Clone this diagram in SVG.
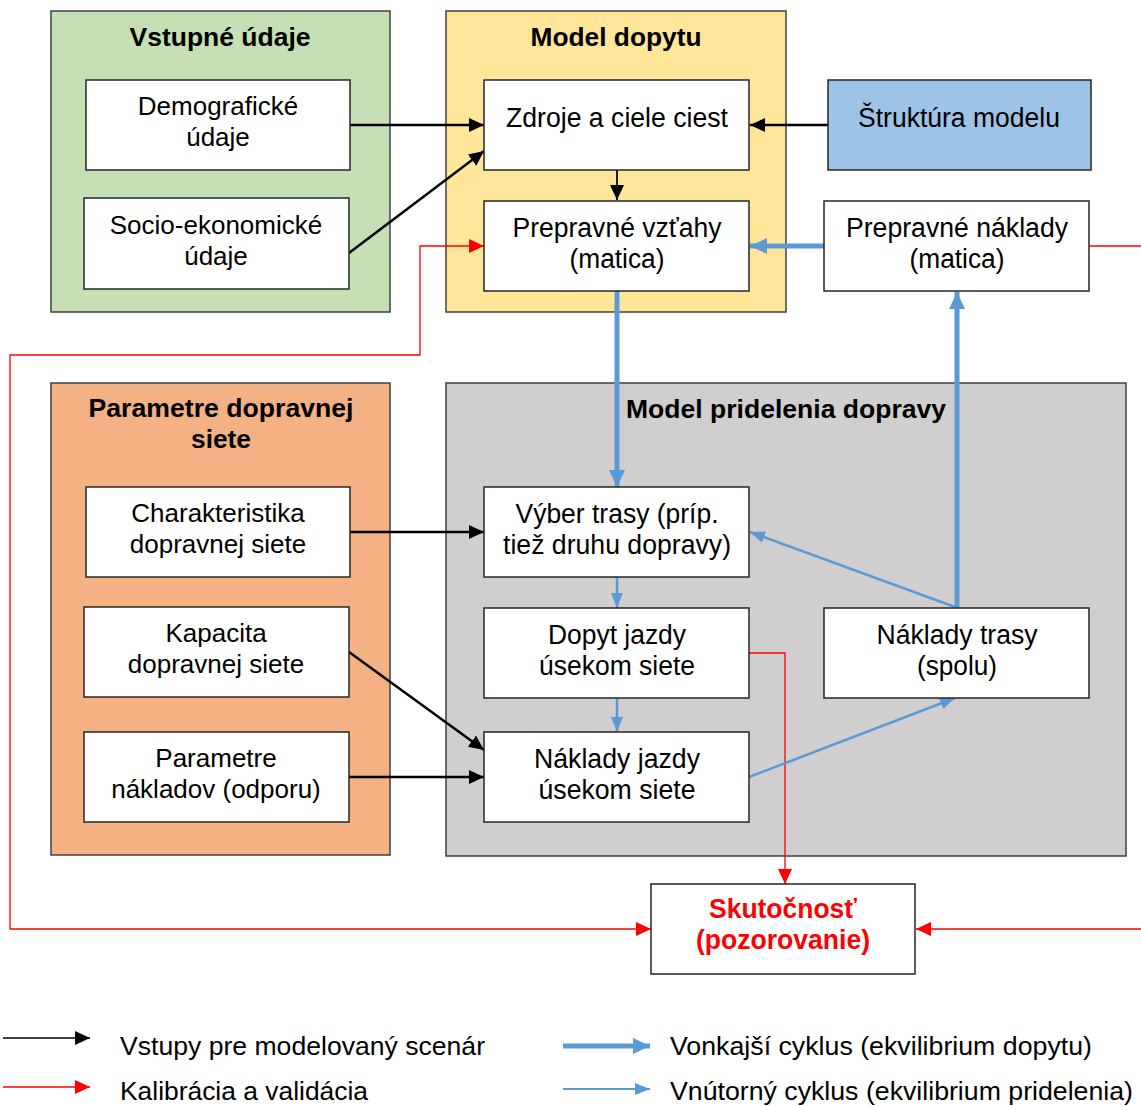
<svg xmlns="http://www.w3.org/2000/svg" width="1141" height="1106" viewBox="0 0 1141 1106">
<style>
text{font-family:"Liberation Sans",Arial,sans-serif;fill:#000;text-anchor:middle}
.t{font-size:26px;font-weight:bold}
.r{font-size:26px}
.c{font-size:27px}
.grp{stroke:#404040;stroke-width:1.5}
.box{fill:#fff;stroke:#262626;stroke-width:1.5}
.blk{stroke:#000;stroke-width:2.5;fill:none}
.blk1{stroke:#000;stroke-width:1.8;fill:none}
.red{stroke:#FF0000;stroke-width:1.3;fill:none}
.bT{stroke:#5B9BD5;stroke-width:5;fill:none}
.bt{stroke:#5B9BD5;stroke-width:2.5;fill:none}
.lg{font-size:26px;text-anchor:start}
</style>
<defs>
<marker id="ak" markerUnits="userSpaceOnUse" markerWidth="16" markerHeight="16" viewBox="0 0 16 16" refX="15" refY="8" orient="auto"><path d="M0,1 L15,8 L0,15 z" fill="#000"/></marker>
<marker id="ar" markerUnits="userSpaceOnUse" markerWidth="16" markerHeight="16" viewBox="0 0 16 16" refX="15" refY="8" orient="auto-start-reverse"><path d="M0,1 L15,8 L0,15 z" fill="#FF0000"/></marker>
<marker id="ab" markerUnits="userSpaceOnUse" markerWidth="18" markerHeight="18" viewBox="0 0 18 18" refX="17" refY="9" orient="auto"><path d="M0,1 L17,9 L0,17 z" fill="#5B9BD5"/></marker>
<marker id="abs" markerUnits="userSpaceOnUse" markerWidth="16" markerHeight="16" viewBox="0 0 16 16" refX="15" refY="8" orient="auto"><path d="M0,2 L15,8 L0,14 z" fill="#5B9BD5"/></marker>
</defs>

<g id="grp-vstupne">
<rect class="grp" x="51" y="11" width="339" height="301" fill="#C5E0B4"/>
<text class="t" x="220" y="46" textLength="181" lengthAdjust="spacingAndGlyphs">Vstupné údaje</text>
</g>
<g id="grp-dopyt">
<rect class="grp" x="446" y="11" width="340" height="301" fill="#FFE699"/>
<text class="t" x="616" y="46" textLength="171" lengthAdjust="spacingAndGlyphs">Model dopytu</text>
</g>
<g id="grp-parametre">
<rect class="grp" x="51" y="383" width="339" height="472" fill="#F4B183"/>
<text class="t" x="221" y="417" textLength="265" lengthAdjust="spacingAndGlyphs">Parametre dopravnej</text>
<text class="t" x="221" y="448" textLength="60" lengthAdjust="spacingAndGlyphs">siete</text>
</g>
<g id="grp-pridelenie">
<rect class="grp" x="446" y="383" width="680" height="473" fill="#D0CECE"/>
</g>

<g id="connectors">
<line class="blk" x1="350" y1="125" x2="484" y2="125" marker-end="url(#ak)"/>
<line class="blk" x1="349" y1="253" x2="484" y2="151" marker-end="url(#ak)"/>
<line class="blk" x1="828" y1="125" x2="750" y2="125" marker-end="url(#ak)"/>
<line class="blk1" x1="617" y1="170" x2="617" y2="200" marker-end="url(#ak)"/>
<line class="blk" x1="350" y1="532" x2="484" y2="532" marker-end="url(#ak)"/>
<line class="blk" x1="349" y1="652" x2="484" y2="750" marker-end="url(#ak)"/>
<line class="blk" x1="349" y1="777" x2="484" y2="777" marker-end="url(#ak)"/>
<path class="red" d="M484,246 H420 V355 H10 V929 H651" marker-start="url(#ar)" marker-end="url(#ar)"/>
<line class="red" x1="1089" y1="246" x2="1141" y2="246"/>
<line class="red" x1="1141" y1="929" x2="916" y2="929" marker-end="url(#ar)"/>
<path class="red" d="M749,653 H785 V884" marker-end="url(#ar)"/>
<line class="bT" x1="826" y1="246" x2="750" y2="246" marker-end="url(#ab)"/>
<line class="bT" x1="617" y1="291" x2="617" y2="487" marker-end="url(#ab)"/>
<line class="bT" x1="957" y1="608" x2="957" y2="292" marker-end="url(#ab)"/>
<line class="bt" x1="955" y1="607" x2="750" y2="532" marker-end="url(#abs)"/>
<line class="bt" x1="617" y1="577" x2="617" y2="608" marker-end="url(#abs)"/>
<line class="bt" x1="617" y1="698" x2="617" y2="732" marker-end="url(#abs)"/>
<line class="bt" x1="749" y1="777" x2="955" y2="698" marker-end="url(#abs)"/>
</g>

<g id="title-pridelenie"><text class="t" x="786" y="418" textLength="320" lengthAdjust="spacingAndGlyphs">Model pridelenia dopravy</text></g>

<g id="n-demograficke">
<rect class="box" x="86" y="80" width="264" height="90"/>
<text class="r" x="218" y="115">Demografické</text>
<text class="r" x="218" y="146">údaje</text>
</g>
<g id="n-socio">
<rect class="box" x="84" y="198" width="265" height="91"/>
<text class="r" x="216" y="234">Socio-ekonomické</text>
<text class="r" x="216" y="265">údaje</text>
</g>
<g id="n-zdroje">
<rect class="box" x="484" y="80" width="265" height="90"/>
<text class="c" x="617" y="127" textLength="222" lengthAdjust="spacingAndGlyphs">Zdroje a ciele ciest</text>
</g>
<g id="n-struktura">
<rect x="828" y="80" width="263" height="90" fill="#9DC3E6" stroke="#262626" stroke-width="1.5"/>
<text class="c" x="959" y="127" textLength="202" lengthAdjust="spacingAndGlyphs">Štruktúra modelu</text>
</g>
<g id="n-vztahy">
<rect class="box" x="484" y="201" width="265" height="90"/>
<text class="c" x="617" y="237" textLength="209" lengthAdjust="spacingAndGlyphs">Prepravné vzťahy</text>
<text class="c" x="617" y="268" textLength="95" lengthAdjust="spacingAndGlyphs">(matica)</text>
</g>
<g id="n-naklady-matica">
<rect class="box" x="824" y="201" width="265" height="90"/>
<text class="c" x="957" y="237" textLength="222" lengthAdjust="spacingAndGlyphs">Prepravné náklady</text>
<text class="c" x="957" y="268" textLength="95" lengthAdjust="spacingAndGlyphs">(matica)</text>
</g>
<g id="n-charakteristika">
<rect class="box" x="86" y="487" width="264" height="90"/>
<text class="r" x="218" y="522">Charakteristika</text>
<text class="r" x="218" y="553">dopravnej siete</text>
</g>
<g id="n-kapacita">
<rect class="box" x="84" y="607" width="265" height="90"/>
<text class="r" x="216" y="642">Kapacita</text>
<text class="r" x="216" y="673">dopravnej siete</text>
</g>
<g id="n-parametre-nakladov">
<rect class="box" x="84" y="732" width="265" height="90"/>
<text class="r" x="216" y="767">Parametre</text>
<text class="r" x="216" y="798">nákladov (odporu)</text>
</g>
<g id="n-vyber">
<rect class="box" x="484" y="487" width="265" height="90"/>
<text class="c" x="617" y="523" textLength="203" lengthAdjust="spacingAndGlyphs">Výber trasy (príp.</text>
<text class="c" x="617" y="554" textLength="228" lengthAdjust="spacingAndGlyphs">tiež druhu dopravy)</text>
</g>
<g id="n-dopyt-jazdy">
<rect class="box" x="484" y="608" width="265" height="90"/>
<text class="c" x="617" y="644" textLength="138" lengthAdjust="spacingAndGlyphs">Dopyt jazdy</text>
<text class="c" x="617" y="675" textLength="156" lengthAdjust="spacingAndGlyphs">úsekom siete</text>
</g>
<g id="n-naklady-trasy">
<rect class="box" x="824" y="608" width="265" height="90"/>
<text class="c" x="957" y="644" textLength="161" lengthAdjust="spacingAndGlyphs">Náklady trasy</text>
<text class="c" x="957" y="675" textLength="80" lengthAdjust="spacingAndGlyphs">(spolu)</text>
</g>
<g id="n-naklady-jazdy">
<rect class="box" x="484" y="732" width="265" height="90"/>
<text class="c" x="617" y="768" textLength="166" lengthAdjust="spacingAndGlyphs">Náklady jazdy</text>
<text class="c" x="617" y="799" textLength="157" lengthAdjust="spacingAndGlyphs">úsekom siete</text>
</g>
<g id="n-skutocnost">
<rect class="box" x="651" y="884" width="264" height="90"/>
<text class="c" x="783" y="918" style="fill:#FF0000;font-weight:bold" textLength="148" lengthAdjust="spacingAndGlyphs">Skutočnosť</text>
<text class="c" x="783" y="949" style="fill:#FF0000;font-weight:bold" textLength="174" lengthAdjust="spacingAndGlyphs">(pozorovanie)</text>
</g>

<g id="legend">
<line x1="3" y1="1038" x2="90" y2="1038" stroke="#000" stroke-width="1.3" marker-end="url(#ak)"/>
<text class="lg" x="120" y="1055" textLength="365" lengthAdjust="spacingAndGlyphs">Vstupy pre modelovaný scenár</text>
<line x1="3" y1="1087" x2="90" y2="1087" stroke="#FF0000" stroke-width="1.3" marker-end="url(#ar)"/>
<text class="lg" x="120" y="1100" textLength="248" lengthAdjust="spacingAndGlyphs">Kalibrácia a validácia</text>
<line x1="563" y1="1046" x2="650" y2="1046" stroke="#5B9BD5" stroke-width="5" marker-end="url(#ab)"/>
<text class="lg" x="670" y="1055" textLength="422" lengthAdjust="spacingAndGlyphs">Vonkajší cyklus (ekvilibrium dopytu)</text>
<line x1="563" y1="1089" x2="650" y2="1089" stroke="#5B9BD5" stroke-width="2" marker-end="url(#abs)"/>
<text class="lg" x="670" y="1100" textLength="463" lengthAdjust="spacingAndGlyphs">Vnútorný cyklus (ekvilibrium pridelenia)</text>
</g>
</svg>
